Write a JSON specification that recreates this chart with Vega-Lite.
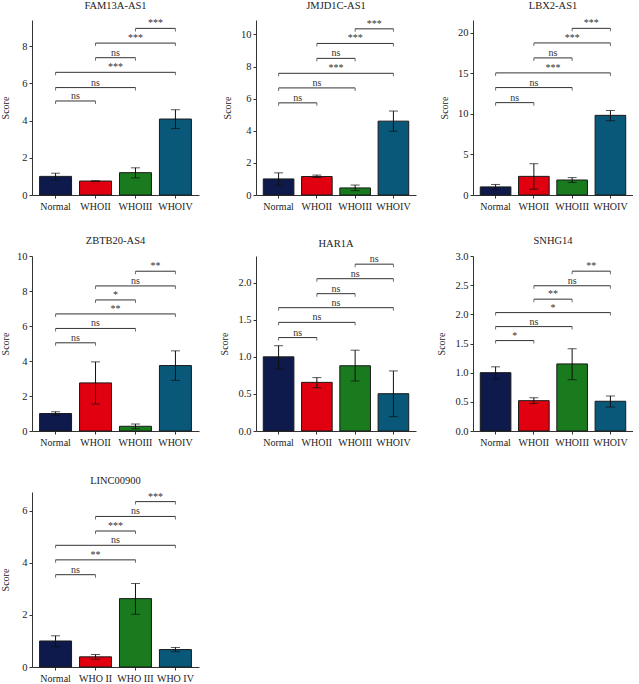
{
  "$schema": "https://vega.github.io/schema/vega-lite/v6.json",
  "padding": {"left": 0, "top": 0, "right": 0, "bottom": 0},
  "background": "white",
  "columns": 3,
  "spacing": {"row": 61, "column": 57},
  "bounds": "flush",
  "align": "each",
  "resolve": {"scale": {"color": "independent"}},
  "config": {
    "view": {"stroke": null},
    "font": "Liberation Serif",
    "axis": {"labelFont": "Liberation Serif", "titleFont": "Liberation Serif", "labelFontSize": 10.5, "titleFontSize": 10, "titleFontWeight": "normal", "labelColor": "#222", "titleColor": "#222", "domainColor": "#333", "tickColor": "#333", "tickSize": 3, "grid": false, "labelPadding": 2, "labelOverlap": false},
    "axisX": {"labelAngle": 0, "labelPadding": 3, "title": null, "labelFontSize": 10},
    "title": {"font": "Liberation Serif", "fontSize": 10.5, "fontWeight": "normal", "color": "#222", "offset": 5},
    "text": {"font": "Liberation Serif", "fontSize": 10, "color": "#333"}
  },
  "datasets": {
    "bars": [
      {"gene": "FAM13A-AS1", "group": "Normal", "mean": 1.0, "lo": 0.8, "hi": 1.17},
      {"gene": "FAM13A-AS1", "group": "WHOII", "mean": 0.75, "lo": 0.74, "hi": 0.76},
      {"gene": "FAM13A-AS1", "group": "WHOIII", "mean": 1.2, "lo": 0.92, "hi": 1.46},
      {"gene": "FAM13A-AS1", "group": "WHOIV", "mean": 4.08, "lo": 3.57, "hi": 4.58},
      {"gene": "JMJD1C-AS1", "group": "Normal", "mean": 1.0, "lo": 0.6, "hi": 1.38},
      {"gene": "JMJD1C-AS1", "group": "WHOII", "mean": 1.15, "lo": 1.09, "hi": 1.24},
      {"gene": "JMJD1C-AS1", "group": "WHOIII", "mean": 0.44, "lo": 0.27, "hi": 0.62},
      {"gene": "JMJD1C-AS1", "group": "WHOIV", "mean": 4.6, "lo": 3.97, "hi": 5.23},
      {"gene": "LBX2-AS1", "group": "Normal", "mean": 1.0, "lo": 0.7, "hi": 1.3},
      {"gene": "LBX2-AS1", "group": "WHOII", "mean": 2.3, "lo": 0.72, "hi": 3.86},
      {"gene": "LBX2-AS1", "group": "WHOIII", "mean": 1.85, "lo": 1.55, "hi": 2.15},
      {"gene": "LBX2-AS1", "group": "WHOIV", "mean": 9.83, "lo": 9.17, "hi": 10.43},
      {"gene": "ZBTB20-AS4", "group": "Normal", "mean": 1.0, "lo": 0.87, "hi": 1.1},
      {"gene": "ZBTB20-AS4", "group": "WHOII", "mean": 2.75, "lo": 1.54, "hi": 3.95},
      {"gene": "ZBTB20-AS4", "group": "WHOIII", "mean": 0.27, "lo": 0.13, "hi": 0.4},
      {"gene": "ZBTB20-AS4", "group": "WHOIV", "mean": 3.74, "lo": 2.89, "hi": 4.58},
      {"gene": "HAR1A", "group": "Normal", "mean": 1.0, "lo": 0.84, "hi": 1.15},
      {"gene": "HAR1A", "group": "WHOII", "mean": 0.656, "lo": 0.584, "hi": 0.72},
      {"gene": "HAR1A", "group": "WHOIII", "mean": 0.88, "lo": 0.674, "hi": 1.09},
      {"gene": "HAR1A", "group": "WHOIV", "mean": 0.503, "lo": 0.193, "hi": 0.81},
      {"gene": "SNHG14", "group": "Normal", "mean": 1.0, "lo": 0.89, "hi": 1.1},
      {"gene": "SNHG14", "group": "WHOII", "mean": 0.52, "lo": 0.47, "hi": 0.57},
      {"gene": "SNHG14", "group": "WHOIII", "mean": 1.15, "lo": 0.88, "hi": 1.41},
      {"gene": "SNHG14", "group": "WHOIV", "mean": 0.51, "lo": 0.41, "hi": 0.6},
      {"gene": "LINC00900", "group": "Normal", "mean": 1.0, "lo": 0.78, "hi": 1.2},
      {"gene": "LINC00900", "group": "WHO II", "mean": 0.39, "lo": 0.3, "hi": 0.48},
      {"gene": "LINC00900", "group": "WHO III", "mean": 2.63, "lo": 2.03, "hi": 3.21},
      {"gene": "LINC00900", "group": "WHO IV", "mean": 0.67, "lo": 0.59, "hi": 0.75}
    ],
    "sig": [
      {"gene": "FAM13A-AS1", "from": "Normal", "to": "WHOII", "level": 5.05, "label": "ns"},
      {"gene": "FAM13A-AS1", "from": "Normal", "to": "WHOIII", "level": 5.77, "label": "ns"},
      {"gene": "FAM13A-AS1", "from": "Normal", "to": "WHOIV", "level": 6.59, "label": "***"},
      {"gene": "FAM13A-AS1", "from": "WHOII", "to": "WHOIII", "level": 7.375, "label": "ns"},
      {"gene": "FAM13A-AS1", "from": "WHOII", "to": "WHOIV", "level": 8.16, "label": "***"},
      {"gene": "FAM13A-AS1", "from": "WHOIII", "to": "WHOIV", "level": 8.95, "label": "***"},
      {"gene": "JMJD1C-AS1", "from": "Normal", "to": "WHOII", "level": 5.74, "label": "ns"},
      {"gene": "JMJD1C-AS1", "from": "Normal", "to": "WHOIII", "level": 6.67, "label": "ns"},
      {"gene": "JMJD1C-AS1", "from": "Normal", "to": "WHOIV", "level": 7.58, "label": "***"},
      {"gene": "JMJD1C-AS1", "from": "WHOII", "to": "WHOIII", "level": 8.51, "label": "ns"},
      {"gene": "JMJD1C-AS1", "from": "WHOII", "to": "WHOIV", "level": 9.44, "label": "***"},
      {"gene": "JMJD1C-AS1", "from": "WHOIII", "to": "WHOIV", "level": 10.35, "label": "***"},
      {"gene": "LBX2-AS1", "from": "Normal", "to": "WHOII", "level": 11.4, "label": "ns"},
      {"gene": "LBX2-AS1", "from": "Normal", "to": "WHOIII", "level": 13.26, "label": "ns"},
      {"gene": "LBX2-AS1", "from": "Normal", "to": "WHOIV", "level": 15.07, "label": "***"},
      {"gene": "LBX2-AS1", "from": "WHOII", "to": "WHOIII", "level": 16.92, "label": "ns"},
      {"gene": "LBX2-AS1", "from": "WHOII", "to": "WHOIV", "level": 18.77, "label": "***"},
      {"gene": "LBX2-AS1", "from": "WHOIII", "to": "WHOIV", "level": 20.57, "label": "***"},
      {"gene": "ZBTB20-AS4", "from": "Normal", "to": "WHOII", "level": 5.04, "label": "ns"},
      {"gene": "ZBTB20-AS4", "from": "Normal", "to": "WHOIII", "level": 5.86, "label": "ns"},
      {"gene": "ZBTB20-AS4", "from": "Normal", "to": "WHOIV", "level": 6.69, "label": "**"},
      {"gene": "ZBTB20-AS4", "from": "WHOII", "to": "WHOIII", "level": 7.49, "label": "*"},
      {"gene": "ZBTB20-AS4", "from": "WHOII", "to": "WHOIV", "level": 8.29, "label": "ns"},
      {"gene": "ZBTB20-AS4", "from": "WHOIII", "to": "WHOIV", "level": 9.13, "label": "**"},
      {"gene": "HAR1A", "from": "Normal", "to": "WHOII", "level": 1.26, "label": "ns"},
      {"gene": "HAR1A", "from": "Normal", "to": "WHOIII", "level": 1.465, "label": "ns"},
      {"gene": "HAR1A", "from": "Normal", "to": "WHOIV", "level": 1.663, "label": "ns"},
      {"gene": "HAR1A", "from": "WHOII", "to": "WHOIII", "level": 1.852, "label": "ns"},
      {"gene": "HAR1A", "from": "WHOII", "to": "WHOIV", "level": 2.054, "label": "ns"},
      {"gene": "HAR1A", "from": "WHOIII", "to": "WHOIV", "level": 2.25, "label": "ns"},
      {"gene": "SNHG14", "from": "Normal", "to": "WHOII", "level": 1.55, "label": "*"},
      {"gene": "SNHG14", "from": "Normal", "to": "WHOIII", "level": 1.79, "label": "ns"},
      {"gene": "SNHG14", "from": "Normal", "to": "WHOIV", "level": 2.03, "label": "*"},
      {"gene": "SNHG14", "from": "WHOII", "to": "WHOIII", "level": 2.26, "label": "**"},
      {"gene": "SNHG14", "from": "WHOII", "to": "WHOIV", "level": 2.49, "label": "ns"},
      {"gene": "SNHG14", "from": "WHOIII", "to": "WHOIV", "level": 2.74, "label": "**"},
      {"gene": "LINC00900", "from": "Normal", "to": "WHO II", "level": 3.55, "label": "ns"},
      {"gene": "LINC00900", "from": "Normal", "to": "WHO III", "level": 4.12, "label": "**"},
      {"gene": "LINC00900", "from": "Normal", "to": "WHO IV", "level": 4.68, "label": "ns"},
      {"gene": "LINC00900", "from": "WHO II", "to": "WHO III", "level": 5.23, "label": "***"},
      {"gene": "LINC00900", "from": "WHO II", "to": "WHO IV", "level": 5.79, "label": "ns"},
      {"gene": "LINC00900", "from": "WHO III", "to": "WHO IV", "level": 6.36, "label": "***"}
    ]
  },
  "concat": [
    {
      "title": {"text": "FAM13A-AS1", "offset": 7}, "width": 167, "height": 175,
      "layer": [
        {"data": {"name": "bars"}, "transform": [{"filter": {"field": "gene", "equal": "FAM13A-AS1"}}],
         "encoding": {"x": {"field": "group", "type": "nominal", "scale": {"domain": ["Normal", "WHOII", "WHOIII", "WHOIV"], "paddingInner": 0.2, "paddingOuter": 0.19}}},
         "layer": [
          {"mark": {"type": "bar", "stroke": "#1a1a1a", "strokeWidth": 1}, "encoding": {"y": {"field": "mean", "type": "quantitative", "scale": {"domain": [0, 9.4], "nice": false}, "axis": {"title": "Score", "values": [0, 2, 4, 6, 8], "tickCount": 20, "format": "d", "titlePadding": 11}}, "color": {"field": "group", "type": "nominal", "scale": {"domain": ["Normal", "WHOII", "WHOIII", "WHOIV"], "range": ["#0d1a4b", "#e0000f", "#197a1e", "#0a5879"]}, "legend": null}}},
          {"mark": {"type": "rule", "color": "#111"}, "encoding": {"y": {"field": "lo", "type": "quantitative"}, "y2": {"field": "hi"}}},
          {"mark": {"type": "tick", "orient": "horizontal", "size": 9, "thickness": 1, "color": "#111"}, "encoding": {"y": {"field": "lo", "type": "quantitative"}}},
          {"mark": {"type": "tick", "orient": "horizontal", "size": 9, "thickness": 1, "color": "#111"}, "encoding": {"y": {"field": "hi", "type": "quantitative"}}}
         ]},
        {"data": {"name": "sig"}, "transform": [{"filter": {"field": "gene", "equal": "FAM13A-AS1"}}],
         "encoding": {"y": {"field": "level", "type": "quantitative"}},
         "layer": [
          {"mark": {"type": "rule", "color": "#333"}, "encoding": {"x": {"field": "from", "type": "nominal"}, "x2": {"field": "to"}}},
          {"mark": {"type": "tick", "orient": "vertical", "size": 3, "thickness": 1, "yOffset": 1.5, "color": "#333"}, "encoding": {"x": {"field": "from", "type": "nominal"}}},
          {"mark": {"type": "tick", "orient": "vertical", "size": 3, "thickness": 1, "yOffset": 1.5, "color": "#333"}, "encoding": {"x": {"field": "to", "type": "nominal"}}},
          {"transform": [{"filter": "indexof(['Normal','WHOII','WHOIII','WHOIV'], replace(datum.to,' ','')) - indexof(['Normal','WHOII','WHOIII','WHOIV'], replace(datum.from,' ','')) == 1"}], "mark": {"type": "text", "baseline": "alphabetic", "dy": -2}, "encoding": {"x": {"field": "from", "type": "nominal", "bandPosition": 1.125}, "text": {"field": "label"}}},
          {"transform": [{"filter": "indexof(['Normal','WHOII','WHOIII','WHOIV'], replace(datum.to,' ','')) - indexof(['Normal','WHOII','WHOIII','WHOIV'], replace(datum.from,' ','')) == 2"}], "mark": {"type": "text", "baseline": "alphabetic", "dy": -2}, "encoding": {"x": {"field": "from", "type": "nominal", "bandPosition": 1.75}, "text": {"field": "label"}}},
          {"transform": [{"filter": "indexof(['Normal','WHOII','WHOIII','WHOIV'], replace(datum.to,' ','')) - indexof(['Normal','WHOII','WHOIII','WHOIV'], replace(datum.from,' ','')) == 3"}], "mark": {"type": "text", "baseline": "alphabetic", "dy": -2}, "encoding": {"x": {"field": "from", "type": "nominal", "bandPosition": 2.375}, "text": {"field": "label"}}}
         ]}
      ]
    },
    {
      "title": {"text": "JMJD1C-AS1", "offset": 7}, "width": 160, "height": 175,
      "layer": [
        {"data": {"name": "bars"}, "transform": [{"filter": {"field": "gene", "equal": "JMJD1C-AS1"}}],
         "encoding": {"x": {"field": "group", "type": "nominal", "scale": {"domain": ["Normal", "WHOII", "WHOIII", "WHOIV"], "paddingInner": 0.2, "paddingOuter": 0.19}}},
         "layer": [
          {"mark": {"type": "bar", "stroke": "#1a1a1a", "strokeWidth": 1}, "encoding": {"y": {"field": "mean", "type": "quantitative", "scale": {"domain": [0, 10.9], "nice": false}, "axis": {"title": "Score", "values": [0, 2, 4, 6, 8, 10], "tickCount": 20, "format": "d", "titlePadding": 8}}, "color": {"field": "group", "type": "nominal", "scale": {"domain": ["Normal", "WHOII", "WHOIII", "WHOIV"], "range": ["#0d1a4b", "#e0000f", "#197a1e", "#0a5879"]}, "legend": null}}},
          {"mark": {"type": "rule", "color": "#111"}, "encoding": {"y": {"field": "lo", "type": "quantitative"}, "y2": {"field": "hi"}}},
          {"mark": {"type": "tick", "orient": "horizontal", "size": 9, "thickness": 1, "color": "#111"}, "encoding": {"y": {"field": "lo", "type": "quantitative"}}},
          {"mark": {"type": "tick", "orient": "horizontal", "size": 9, "thickness": 1, "color": "#111"}, "encoding": {"y": {"field": "hi", "type": "quantitative"}}}
         ]},
        {"data": {"name": "sig"}, "transform": [{"filter": {"field": "gene", "equal": "JMJD1C-AS1"}}],
         "encoding": {"y": {"field": "level", "type": "quantitative"}},
         "layer": [
          {"mark": {"type": "rule", "color": "#333"}, "encoding": {"x": {"field": "from", "type": "nominal"}, "x2": {"field": "to"}}},
          {"mark": {"type": "tick", "orient": "vertical", "size": 3, "thickness": 1, "yOffset": 1.5, "color": "#333"}, "encoding": {"x": {"field": "from", "type": "nominal"}}},
          {"mark": {"type": "tick", "orient": "vertical", "size": 3, "thickness": 1, "yOffset": 1.5, "color": "#333"}, "encoding": {"x": {"field": "to", "type": "nominal"}}},
          {"transform": [{"filter": "indexof(['Normal','WHOII','WHOIII','WHOIV'], replace(datum.to,' ','')) - indexof(['Normal','WHOII','WHOIII','WHOIV'], replace(datum.from,' ','')) == 1"}], "mark": {"type": "text", "baseline": "alphabetic", "dy": -2}, "encoding": {"x": {"field": "from", "type": "nominal", "bandPosition": 1.125}, "text": {"field": "label"}}},
          {"transform": [{"filter": "indexof(['Normal','WHOII','WHOIII','WHOIV'], replace(datum.to,' ','')) - indexof(['Normal','WHOII','WHOIII','WHOIV'], replace(datum.from,' ','')) == 2"}], "mark": {"type": "text", "baseline": "alphabetic", "dy": -2}, "encoding": {"x": {"field": "from", "type": "nominal", "bandPosition": 1.75}, "text": {"field": "label"}}},
          {"transform": [{"filter": "indexof(['Normal','WHOII','WHOIII','WHOIV'], replace(datum.to,' ','')) - indexof(['Normal','WHOII','WHOIII','WHOIV'], replace(datum.from,' ','')) == 3"}], "mark": {"type": "text", "baseline": "alphabetic", "dy": -2}, "encoding": {"x": {"field": "from", "type": "nominal", "bandPosition": 2.375}, "text": {"field": "label"}}}
         ]}
      ]
    },
    {
      "title": {"text": "LBX2-AS1", "offset": 7}, "width": 160, "height": 175,
      "layer": [
        {"data": {"name": "bars"}, "transform": [{"filter": {"field": "gene", "equal": "LBX2-AS1"}}],
         "encoding": {"x": {"field": "group", "type": "nominal", "scale": {"domain": ["Normal", "WHOII", "WHOIII", "WHOIV"], "paddingInner": 0.2, "paddingOuter": 0.19}}},
         "layer": [
          {"mark": {"type": "bar", "stroke": "#1a1a1a", "strokeWidth": 1}, "encoding": {"y": {"field": "mean", "type": "quantitative", "scale": {"domain": [0, 21.6], "nice": false}, "axis": {"title": "Score", "values": [0, 5, 10, 15, 20], "tickCount": 20, "format": "d", "titlePadding": 8}}, "color": {"field": "group", "type": "nominal", "scale": {"domain": ["Normal", "WHOII", "WHOIII", "WHOIV"], "range": ["#0d1a4b", "#e0000f", "#197a1e", "#0a5879"]}, "legend": null}}},
          {"mark": {"type": "rule", "color": "#111"}, "encoding": {"y": {"field": "lo", "type": "quantitative"}, "y2": {"field": "hi"}}},
          {"mark": {"type": "tick", "orient": "horizontal", "size": 9, "thickness": 1, "color": "#111"}, "encoding": {"y": {"field": "lo", "type": "quantitative"}}},
          {"mark": {"type": "tick", "orient": "horizontal", "size": 9, "thickness": 1, "color": "#111"}, "encoding": {"y": {"field": "hi", "type": "quantitative"}}}
         ]},
        {"data": {"name": "sig"}, "transform": [{"filter": {"field": "gene", "equal": "LBX2-AS1"}}],
         "encoding": {"y": {"field": "level", "type": "quantitative"}},
         "layer": [
          {"mark": {"type": "rule", "color": "#333"}, "encoding": {"x": {"field": "from", "type": "nominal"}, "x2": {"field": "to"}}},
          {"mark": {"type": "tick", "orient": "vertical", "size": 3, "thickness": 1, "yOffset": 1.5, "color": "#333"}, "encoding": {"x": {"field": "from", "type": "nominal"}}},
          {"mark": {"type": "tick", "orient": "vertical", "size": 3, "thickness": 1, "yOffset": 1.5, "color": "#333"}, "encoding": {"x": {"field": "to", "type": "nominal"}}},
          {"transform": [{"filter": "indexof(['Normal','WHOII','WHOIII','WHOIV'], replace(datum.to,' ','')) - indexof(['Normal','WHOII','WHOIII','WHOIV'], replace(datum.from,' ','')) == 1"}], "mark": {"type": "text", "baseline": "alphabetic", "dy": -2}, "encoding": {"x": {"field": "from", "type": "nominal", "bandPosition": 1.125}, "text": {"field": "label"}}},
          {"transform": [{"filter": "indexof(['Normal','WHOII','WHOIII','WHOIV'], replace(datum.to,' ','')) - indexof(['Normal','WHOII','WHOIII','WHOIV'], replace(datum.from,' ','')) == 2"}], "mark": {"type": "text", "baseline": "alphabetic", "dy": -2}, "encoding": {"x": {"field": "from", "type": "nominal", "bandPosition": 1.75}, "text": {"field": "label"}}},
          {"transform": [{"filter": "indexof(['Normal','WHOII','WHOIII','WHOIV'], replace(datum.to,' ','')) - indexof(['Normal','WHOII','WHOIII','WHOIV'], replace(datum.from,' ','')) == 3"}], "mark": {"type": "text", "baseline": "alphabetic", "dy": -2}, "encoding": {"x": {"field": "from", "type": "nominal", "bandPosition": 2.375}, "text": {"field": "label"}}}
         ]}
      ]
    },
    {
      "title": "ZBTB20-AS4", "width": 167, "height": 175,
      "layer": [
        {"data": {"name": "bars"}, "transform": [{"filter": {"field": "gene", "equal": "ZBTB20-AS4"}}],
         "encoding": {"x": {"field": "group", "type": "nominal", "scale": {"domain": ["Normal", "WHOII", "WHOIII", "WHOIV"], "paddingInner": 0.2, "paddingOuter": 0.19}}},
         "layer": [
          {"mark": {"type": "bar", "stroke": "#1a1a1a", "strokeWidth": 1}, "encoding": {"y": {"field": "mean", "type": "quantitative", "scale": {"domain": [0, 10], "nice": false}, "axis": {"title": "Score", "values": [0, 2, 4, 6, 8, 10], "tickCount": 20, "format": "d", "titlePadding": 6}}, "color": {"field": "group", "type": "nominal", "scale": {"domain": ["Normal", "WHOII", "WHOIII", "WHOIV"], "range": ["#0d1a4b", "#e0000f", "#197a1e", "#0a5879"]}, "legend": null}}},
          {"mark": {"type": "rule", "color": "#111"}, "encoding": {"y": {"field": "lo", "type": "quantitative"}, "y2": {"field": "hi"}}},
          {"mark": {"type": "tick", "orient": "horizontal", "size": 9, "thickness": 1, "color": "#111"}, "encoding": {"y": {"field": "lo", "type": "quantitative"}}},
          {"mark": {"type": "tick", "orient": "horizontal", "size": 9, "thickness": 1, "color": "#111"}, "encoding": {"y": {"field": "hi", "type": "quantitative"}}}
         ]},
        {"data": {"name": "sig"}, "transform": [{"filter": {"field": "gene", "equal": "ZBTB20-AS4"}}],
         "encoding": {"y": {"field": "level", "type": "quantitative"}},
         "layer": [
          {"mark": {"type": "rule", "color": "#333"}, "encoding": {"x": {"field": "from", "type": "nominal"}, "x2": {"field": "to"}}},
          {"mark": {"type": "tick", "orient": "vertical", "size": 3, "thickness": 1, "yOffset": 1.5, "color": "#333"}, "encoding": {"x": {"field": "from", "type": "nominal"}}},
          {"mark": {"type": "tick", "orient": "vertical", "size": 3, "thickness": 1, "yOffset": 1.5, "color": "#333"}, "encoding": {"x": {"field": "to", "type": "nominal"}}},
          {"transform": [{"filter": "indexof(['Normal','WHOII','WHOIII','WHOIV'], replace(datum.to,' ','')) - indexof(['Normal','WHOII','WHOIII','WHOIV'], replace(datum.from,' ','')) == 1"}], "mark": {"type": "text", "baseline": "alphabetic", "dy": -2}, "encoding": {"x": {"field": "from", "type": "nominal", "bandPosition": 1.125}, "text": {"field": "label"}}},
          {"transform": [{"filter": "indexof(['Normal','WHOII','WHOIII','WHOIV'], replace(datum.to,' ','')) - indexof(['Normal','WHOII','WHOIII','WHOIV'], replace(datum.from,' ','')) == 2"}], "mark": {"type": "text", "baseline": "alphabetic", "dy": -2}, "encoding": {"x": {"field": "from", "type": "nominal", "bandPosition": 1.75}, "text": {"field": "label"}}},
          {"transform": [{"filter": "indexof(['Normal','WHOII','WHOIII','WHOIV'], replace(datum.to,' ','')) - indexof(['Normal','WHOII','WHOIII','WHOIV'], replace(datum.from,' ','')) == 3"}], "mark": {"type": "text", "baseline": "alphabetic", "dy": -2}, "encoding": {"x": {"field": "from", "type": "nominal", "bandPosition": 2.375}, "text": {"field": "label"}}}
         ]}
      ]
    },
    {
      "title": "HAR1A", "width": 160, "height": 175,
      "layer": [
        {"data": {"name": "bars"}, "transform": [{"filter": {"field": "gene", "equal": "HAR1A"}}],
         "encoding": {"x": {"field": "group", "type": "nominal", "scale": {"domain": ["Normal", "WHOII", "WHOIII", "WHOIV"], "paddingInner": 0.2, "paddingOuter": 0.19}}},
         "layer": [
          {"mark": {"type": "bar", "stroke": "#1a1a1a", "strokeWidth": 1}, "encoding": {"y": {"field": "mean", "type": "quantitative", "scale": {"domain": [0, 2.36], "nice": false}, "axis": {"title": "Score", "values": [0, 0.5, 1, 1.5, 2], "tickCount": 20, "format": ".1f", "titlePadding": 8}}, "color": {"field": "group", "type": "nominal", "scale": {"domain": ["Normal", "WHOII", "WHOIII", "WHOIV"], "range": ["#0d1a4b", "#e0000f", "#197a1e", "#0a5879"]}, "legend": null}}},
          {"mark": {"type": "rule", "color": "#111"}, "encoding": {"y": {"field": "lo", "type": "quantitative"}, "y2": {"field": "hi"}}},
          {"mark": {"type": "tick", "orient": "horizontal", "size": 9, "thickness": 1, "color": "#111"}, "encoding": {"y": {"field": "lo", "type": "quantitative"}}},
          {"mark": {"type": "tick", "orient": "horizontal", "size": 9, "thickness": 1, "color": "#111"}, "encoding": {"y": {"field": "hi", "type": "quantitative"}}}
         ]},
        {"data": {"name": "sig"}, "transform": [{"filter": {"field": "gene", "equal": "HAR1A"}}],
         "encoding": {"y": {"field": "level", "type": "quantitative"}},
         "layer": [
          {"mark": {"type": "rule", "color": "#333"}, "encoding": {"x": {"field": "from", "type": "nominal"}, "x2": {"field": "to"}}},
          {"mark": {"type": "tick", "orient": "vertical", "size": 3, "thickness": 1, "yOffset": 1.5, "color": "#333"}, "encoding": {"x": {"field": "from", "type": "nominal"}}},
          {"mark": {"type": "tick", "orient": "vertical", "size": 3, "thickness": 1, "yOffset": 1.5, "color": "#333"}, "encoding": {"x": {"field": "to", "type": "nominal"}}},
          {"transform": [{"filter": "indexof(['Normal','WHOII','WHOIII','WHOIV'], replace(datum.to,' ','')) - indexof(['Normal','WHOII','WHOIII','WHOIV'], replace(datum.from,' ','')) == 1"}], "mark": {"type": "text", "baseline": "alphabetic", "dy": -2}, "encoding": {"x": {"field": "from", "type": "nominal", "bandPosition": 1.125}, "text": {"field": "label"}}},
          {"transform": [{"filter": "indexof(['Normal','WHOII','WHOIII','WHOIV'], replace(datum.to,' ','')) - indexof(['Normal','WHOII','WHOIII','WHOIV'], replace(datum.from,' ','')) == 2"}], "mark": {"type": "text", "baseline": "alphabetic", "dy": -2}, "encoding": {"x": {"field": "from", "type": "nominal", "bandPosition": 1.75}, "text": {"field": "label"}}},
          {"transform": [{"filter": "indexof(['Normal','WHOII','WHOIII','WHOIV'], replace(datum.to,' ','')) - indexof(['Normal','WHOII','WHOIII','WHOIV'], replace(datum.from,' ','')) == 3"}], "mark": {"type": "text", "baseline": "alphabetic", "dy": -2}, "encoding": {"x": {"field": "from", "type": "nominal", "bandPosition": 2.375}, "text": {"field": "label"}}}
         ]}
      ]
    },
    {
      "title": "SNHG14", "width": 160, "height": 175,
      "layer": [
        {"data": {"name": "bars"}, "transform": [{"filter": {"field": "gene", "equal": "SNHG14"}}],
         "encoding": {"x": {"field": "group", "type": "nominal", "scale": {"domain": ["Normal", "WHOII", "WHOIII", "WHOIV"], "paddingInner": 0.2, "paddingOuter": 0.19}}},
         "layer": [
          {"mark": {"type": "bar", "stroke": "#1a1a1a", "strokeWidth": 1}, "encoding": {"y": {"field": "mean", "type": "quantitative", "scale": {"domain": [0, 3], "nice": false}, "axis": {"title": "Score", "values": [0, 0.5, 1, 1.5, 2, 2.5, 3], "tickCount": 20, "format": ".1f", "titlePadding": 8}}, "color": {"field": "group", "type": "nominal", "scale": {"domain": ["Normal", "WHOII", "WHOIII", "WHOIV"], "range": ["#0d1a4b", "#e0000f", "#197a1e", "#0a5879"]}, "legend": null}}},
          {"mark": {"type": "rule", "color": "#111"}, "encoding": {"y": {"field": "lo", "type": "quantitative"}, "y2": {"field": "hi"}}},
          {"mark": {"type": "tick", "orient": "horizontal", "size": 9, "thickness": 1, "color": "#111"}, "encoding": {"y": {"field": "lo", "type": "quantitative"}}},
          {"mark": {"type": "tick", "orient": "horizontal", "size": 9, "thickness": 1, "color": "#111"}, "encoding": {"y": {"field": "hi", "type": "quantitative"}}}
         ]},
        {"data": {"name": "sig"}, "transform": [{"filter": {"field": "gene", "equal": "SNHG14"}}],
         "encoding": {"y": {"field": "level", "type": "quantitative"}},
         "layer": [
          {"mark": {"type": "rule", "color": "#333"}, "encoding": {"x": {"field": "from", "type": "nominal"}, "x2": {"field": "to"}}},
          {"mark": {"type": "tick", "orient": "vertical", "size": 3, "thickness": 1, "yOffset": 1.5, "color": "#333"}, "encoding": {"x": {"field": "from", "type": "nominal"}}},
          {"mark": {"type": "tick", "orient": "vertical", "size": 3, "thickness": 1, "yOffset": 1.5, "color": "#333"}, "encoding": {"x": {"field": "to", "type": "nominal"}}},
          {"transform": [{"filter": "indexof(['Normal','WHOII','WHOIII','WHOIV'], replace(datum.to,' ','')) - indexof(['Normal','WHOII','WHOIII','WHOIV'], replace(datum.from,' ','')) == 1"}], "mark": {"type": "text", "baseline": "alphabetic", "dy": -2}, "encoding": {"x": {"field": "from", "type": "nominal", "bandPosition": 1.125}, "text": {"field": "label"}}},
          {"transform": [{"filter": "indexof(['Normal','WHOII','WHOIII','WHOIV'], replace(datum.to,' ','')) - indexof(['Normal','WHOII','WHOIII','WHOIV'], replace(datum.from,' ','')) == 2"}], "mark": {"type": "text", "baseline": "alphabetic", "dy": -2}, "encoding": {"x": {"field": "from", "type": "nominal", "bandPosition": 1.75}, "text": {"field": "label"}}},
          {"transform": [{"filter": "indexof(['Normal','WHOII','WHOIII','WHOIV'], replace(datum.to,' ','')) - indexof(['Normal','WHOII','WHOIII','WHOIV'], replace(datum.from,' ','')) == 3"}], "mark": {"type": "text", "baseline": "alphabetic", "dy": -2}, "encoding": {"x": {"field": "from", "type": "nominal", "bandPosition": 2.375}, "text": {"field": "label"}}}
         ]}
      ]
    },
    {
      "title": "LINC00900", "width": 167, "height": 175,
      "layer": [
        {"data": {"name": "bars"}, "transform": [{"filter": {"field": "gene", "equal": "LINC00900"}}],
         "encoding": {"x": {"field": "group", "type": "nominal", "scale": {"domain": ["Normal", "WHO II", "WHO III", "WHO IV"], "paddingInner": 0.2, "paddingOuter": 0.19}}},
         "layer": [
          {"mark": {"type": "bar", "stroke": "#1a1a1a", "strokeWidth": 1}, "encoding": {"y": {"field": "mean", "type": "quantitative", "scale": {"domain": [0, 6.73], "nice": false}, "axis": {"title": "Score", "values": [0, 2, 4, 6], "tickCount": 20, "format": "d", "titlePadding": 11}}, "color": {"field": "group", "type": "nominal", "scale": {"domain": ["Normal", "WHO II", "WHO III", "WHO IV"], "range": ["#0d1a4b", "#e0000f", "#197a1e", "#0a5879"]}, "legend": null}}},
          {"mark": {"type": "rule", "color": "#111"}, "encoding": {"y": {"field": "lo", "type": "quantitative"}, "y2": {"field": "hi"}}},
          {"mark": {"type": "tick", "orient": "horizontal", "size": 9, "thickness": 1, "color": "#111"}, "encoding": {"y": {"field": "lo", "type": "quantitative"}}},
          {"mark": {"type": "tick", "orient": "horizontal", "size": 9, "thickness": 1, "color": "#111"}, "encoding": {"y": {"field": "hi", "type": "quantitative"}}}
         ]},
        {"data": {"name": "sig"}, "transform": [{"filter": {"field": "gene", "equal": "LINC00900"}}],
         "encoding": {"y": {"field": "level", "type": "quantitative"}},
         "layer": [
          {"mark": {"type": "rule", "color": "#333"}, "encoding": {"x": {"field": "from", "type": "nominal"}, "x2": {"field": "to"}}},
          {"mark": {"type": "tick", "orient": "vertical", "size": 3, "thickness": 1, "yOffset": 1.5, "color": "#333"}, "encoding": {"x": {"field": "from", "type": "nominal"}}},
          {"mark": {"type": "tick", "orient": "vertical", "size": 3, "thickness": 1, "yOffset": 1.5, "color": "#333"}, "encoding": {"x": {"field": "to", "type": "nominal"}}},
          {"transform": [{"filter": "indexof(['Normal','WHOII','WHOIII','WHOIV'], replace(datum.to,' ','')) - indexof(['Normal','WHOII','WHOIII','WHOIV'], replace(datum.from,' ','')) == 1"}], "mark": {"type": "text", "baseline": "alphabetic", "dy": -2}, "encoding": {"x": {"field": "from", "type": "nominal", "bandPosition": 1.125}, "text": {"field": "label"}}},
          {"transform": [{"filter": "indexof(['Normal','WHOII','WHOIII','WHOIV'], replace(datum.to,' ','')) - indexof(['Normal','WHOII','WHOIII','WHOIV'], replace(datum.from,' ','')) == 2"}], "mark": {"type": "text", "baseline": "alphabetic", "dy": -2}, "encoding": {"x": {"field": "from", "type": "nominal", "bandPosition": 1.75}, "text": {"field": "label"}}},
          {"transform": [{"filter": "indexof(['Normal','WHOII','WHOIII','WHOIV'], replace(datum.to,' ','')) - indexof(['Normal','WHOII','WHOIII','WHOIV'], replace(datum.from,' ','')) == 3"}], "mark": {"type": "text", "baseline": "alphabetic", "dy": -2}, "encoding": {"x": {"field": "from", "type": "nominal", "bandPosition": 2.375}, "text": {"field": "label"}}}
         ]}
      ]
    }
  ]
}
